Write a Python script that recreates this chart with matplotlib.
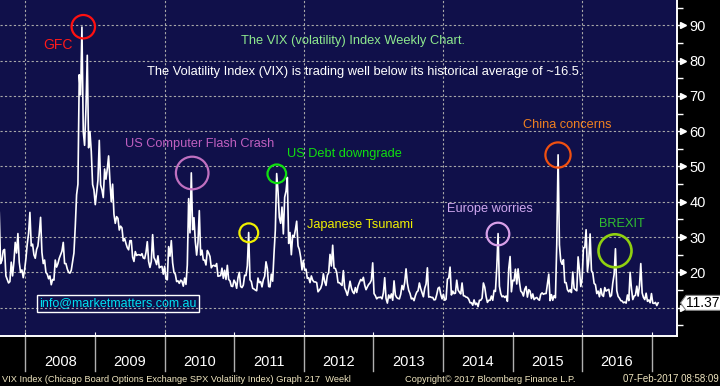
import numpy as np
import pandas as pd
import matplotlib
matplotlib.use("Agg")
import matplotlib.pyplot as plt
import matplotlib.transforms as mtrans
from matplotlib.patches import Circle, Polygon

plt.rcParams['font.family'] = ['Liberation Sans', 'DejaVu Sans']

# ---------------- data (weekly VIX readings) ----------------
vix_2007 = [37.0, 22.5, 23.4, 26.2, 26.5, 19.0, 18.0, 17.0, 17.4, 22.9, 19.0, 23.0,
            28.5, 25.5, 31.0, 22.9, 20.0, 20.7, 18.5, 20.7]
vix_2008 = [23.9, 28.0, 31.0, 37.0, 27.5, 28.0, 25.0, 24.0, 26.5, 27.5, 31.0, 35.6,
            25.7, 22.5, 23.5, 20.0, 19.5, 18.2, 19.0, 16.5, 18.0, 17.8, 23.5, 21.5,
            22.5, 24.0, 25.0, 26.0, 28.5, 22.5, 22.5, 21.0, 20.0, 19.8, 20.6, 23.0,
            25.5, 33.0, 42.0, 45.0, 76.0, 70.3, 89.5, 59.9, 56.0, 66.3, 81.5, 55.3,
            59.9, 54.3, 44.9, 43.4]
vix_2009 = [39.2, 42.8, 46.1, 57.4, 44.8, 43.4, 41.2, 49.3, 46.4, 49.3, 53.0, 45.9,
            40.0, 45.0, 36.5, 33.9, 35.8, 35.3, 32.0, 33.1, 32.6, 28.9, 29.6, 28.2,
            27.0, 26.4, 29.0, 29.0, 24.3, 23.1, 25.9, 24.8, 25.0, 25.0, 24.8, 25.3,
            24.1, 23.9, 25.6, 28.7, 23.1, 21.4, 23.1, 30.7, 24.2, 23.4, 22.2, 24.7,
            21.3, 21.6, 21.7, 19.5]
vix_2010 = [21.7, 18.1, 17.9, 27.3, 24.6, 29.0, 22.7, 20.0, 19.5, 17.4, 17.6, 16.9,
            17.8, 17.5, 16.1, 18.4, 16.6, 22.1, 40.9, 31.2, 48.2, 32.1, 35.5, 28.8,
            24.9, 28.5, 37.5, 24.9, 26.3, 23.5, 23.5, 22.1, 26.2, 25.5, 24.5, 21.3,
            21.9, 22.0, 21.7, 22.5, 18.9, 19.0, 19.1, 21.2, 18.3, 20.6, 18.0, 22.0,
            18.0, 17.6, 16.1, 16.0, 17.8]
vix_2011 = [17.1, 15.5, 18.5, 20.0, 16.0, 15.7, 16.4, 19.2, 19.1, 21.9, 31.3, 17.9,
            17.4, 15.5, 15.3, 15.0, 14.8, 18.4, 17.1, 17.4, 15.9, 17.9, 18.9, 23.0,
            21.1, 16.0, 15.9, 19.5, 17.5, 25.3, 32.0, 48.0, 43.0, 35.6, 33.9, 38.5,
            30.9, 41.3, 43.0, 46.9, 28.2, 31.3, 25.0, 30.5, 30.0, 32.0, 34.5, 27.5,
            26.5, 24.3, 20.7, 23.4]
vix_2012 = [20.6, 20.9, 18.3, 18.5, 17.1, 19.0, 17.8, 17.3, 17.3, 17.1, 14.5, 15.0,
            15.5, 16.7, 19.6, 17.4, 16.3, 19.2, 19.9, 25.1, 21.8, 27.7, 21.2, 21.1,
            20.0, 17.1, 17.1, 16.7, 16.3, 20.5, 15.6, 14.7, 13.5, 15.2, 17.5, 15.6,
            14.5, 14.0, 15.7, 14.3, 16.1, 17.1, 18.0, 17.6, 18.6, 16.4, 15.1, 15.9,
            16.6, 17.0, 17.8, 22.7]
vix_2013 = [14.0, 13.4, 12.5, 12.9, 12.9, 13.0, 12.5, 14.2, 18.5, 12.6, 11.3, 13.6,
            12.7, 13.9, 12.1, 17.6, 13.6, 12.9, 12.6, 12.5, 13.8, 16.3, 15.1, 17.2,
            21.0, 16.9, 14.9, 14.0, 12.5, 12.7, 12.0, 13.4, 14.4, 14.8, 17.0, 15.4,
            14.2, 13.1, 15.5, 16.7, 21.3, 13.0, 13.1, 12.9, 12.9, 12.2, 12.3, 13.7,
            15.5, 15.8, 13.8, 12.5]
vix_2014 = [13.8, 12.1, 12.4, 18.1, 18.4, 21.5, 13.6, 14.7, 14.0, 14.1, 17.8, 15.0,
            14.4, 13.9, 17.0, 13.4, 13.3, 13.0, 12.9, 12.4, 11.4, 11.4, 10.7, 12.2,
            10.9, 11.3, 10.3, 12.1, 12.1, 12.7, 17.0, 15.8, 13.2, 11.5, 12.1, 12.1,
            13.3, 12.1, 14.9, 14.6, 21.2, 31.0, 16.1, 14.0, 13.1, 13.3, 12.9, 13.3,
            11.8, 21.1, 24.5, 14.5]
vix_2015 = [17.8, 17.6, 20.9, 16.7, 21.0, 17.3, 14.7, 14.3, 13.3, 15.2, 16.0, 13.0,
            15.1, 14.7, 12.6, 13.9, 12.3, 12.7, 12.9, 12.4, 12.1, 13.8, 14.2, 13.8,
            14.0, 14.0, 16.8, 19.5, 12.0, 13.7, 12.1, 13.4, 12.8, 28.0, 53.3, 27.8,
            23.2, 22.3, 23.6, 17.1, 17.1, 15.1, 14.5, 15.1, 14.3, 20.1, 15.5, 15.1,
            14.8, 24.4, 20.7, 16.0]
vix_2016 = [18.2, 27.0, 27.0, 32.1, 20.2, 23.4, 30.9, 20.5, 19.8, 16.9, 16.5, 14.0,
            14.7, 13.1, 15.4, 13.6, 13.2, 15.7, 14.7, 15.0, 15.2, 13.1, 13.5, 17.0,
            19.4, 26.7, 14.8, 13.2, 12.7, 12.0, 11.9, 11.4, 11.6, 11.3, 13.6, 12.0,
            20.0, 15.4, 12.3, 13.3, 13.5, 16.1, 13.3, 16.2, 22.5, 14.2, 12.9, 12.3,
            14.1, 11.8, 12.2, 11.4, 14.0]
vix_2017 = [11.3, 11.2, 11.5, 10.6, 11.37]

first_fridays = ['2007-08-17', '2008-01-04', '2009-01-02', '2010-01-01', '2011-01-07',
                 '2012-01-06', '2013-01-04', '2014-01-03', '2015-01-02', '2016-01-01',
                 '2017-01-06']
yearly = [vix_2007, vix_2008, vix_2009, vix_2010, vix_2011, vix_2012, vix_2013,
          vix_2014, vix_2015, vix_2016, vix_2017]

year_labels = ['2008', '2009', '2010', '2011', '2012', '2013', '2014', '2015', '2016']
y_ticks = [10, 20, 30, 40, 50, 60, 70, 80, 90]

dates, values = [], []
for start, arr in zip(first_fridays, yearly):
    dates.extend(pd.date_range(start, periods=len(arr), freq='7D'))
    values.extend(arr)
dates = pd.DatetimeIndex(dates)
last_value = values[-1]

# ---------------- figure ----------------
W, H = 720, 386
fig = plt.figure(figsize=(W / 100, H / 100), dpi=100, facecolor='black')
ax = fig.add_axes([0, 50 / H, 677 / W, 336 / H])
ax.set_facecolor('#10104a')

ax.plot(dates, values, color='white', lw=1.2, zorder=3)

ax.set_ylim(1.98, 97.17)
ax.set_xlim(pd.Timestamp('2007-08-21'), pd.Timestamp('2017-05-13'))

for s in ['left', 'top']:
    ax.spines[s].set_visible(False)
for s in ['right', 'bottom']:
    ax.spines[s].set_color('white')
    ax.spines[s].set_linewidth(1.4)

# y axis on right (the 10 label sits under the last-value marker)
ax.yaxis.tick_right()
ax.set_yticks(y_ticks)
ax.set_yticks([5, 15, 25, 35, 45, 55, 65, 75, 85, 95], minor=True)
ax.set_yticklabels(['' if t == 10 else str(t) for t in y_ticks])
ax.tick_params(axis='y', which='major', colors='white', length=6, width=1.0,
               labelsize=10.5, pad=3)
ax.tick_params(axis='y', which='minor', colors='white', length=4, width=1.0)
ax.grid(axis='y', which='major', color='#a8a8a8', ls=(0, (2, 2)), lw=0.8, zorder=1)

bl = mtrans.blended_transform_factory(ax.transAxes, ax.transData)
ax.plot([1 + 6 / 677] * len(y_ticks), y_ticks, ls='none', marker='>', ms=5,
        color='white', transform=bl, clip_on=False, zorder=4)

# x axis: year boundaries
year_bounds = pd.to_datetime([f'{y}-01-01' for y in range(2008, 2018)])
ax.set_xticks(year_bounds)
ax.set_xticklabels([''] * len(year_bounds))
ax.tick_params(axis='x', which='both', direction='in', length=3, color='white')
for yb in year_bounds[::2]:
    ax.axvline(yb, color='#a8a8a8', ls=(0, (2, 2)), lw=0.8, zorder=1)

bx = mtrans.blended_transform_factory(ax.transData, ax.transAxes)
for yb in year_bounds:
    ax.plot([yb, yb], [0, -35 / 336], color='#b0b0b0', lw=1.0, transform=bx,
            clip_on=False)
for lab in year_labels:
    mid = pd.Timestamp(f'{lab}-07-02')
    ax.text(mid, -26 / 336, lab, transform=bx, ha='center', va='center',
            color='white', fontsize=10.5)

# last value marker
h = 7.5 / 3.53
poly = Polygon([(680.5 / 677, last_value), (686 / 677, last_value + h),
                (722 / 677, last_value + h), (722 / 677, last_value - h),
                (686 / 677, last_value - h)], closed=True, transform=bl,
               fc='white', ec='#808080', lw=0.8, clip_on=False, zorder=6)
ax.add_patch(poly)
ax.text(703 / 677, last_value, f'{last_value:.2f}', transform=bl, ha='center',
        va='center', color='black', fontsize=10, zorder=7, clip_on=False)


def ftext(x, y, s, color, size=9.2, **kw):
    fig.text(x / W, 1 - y / H, s, color=color, fontsize=size, ha='left',
             va='center', **kw)


def circ(x, y, r, color, lw=1.6):
    fig.add_artist(Circle((x / 100, (H - y) / 100), r / 100,
                          transform=fig.dpi_scale_trans, fill=False, ec=color,
                          lw=lw, zorder=5))


ftext(43, 45, 'GFC', '#ff1a1a', 10)
circ(83.3, 26.7, 11.7, '#ff1010')
ftext(241, 41, 'The VIX (volatility) Index Weekly Chart.', '#8ee88e', 9.3)
ftext(147, 72, 'The Volatility Index (VIX) is trading well below its historical average of ~16.5.',
      'white', 9.3)
ftext(125, 144, 'US Computer Flash Crash', '#c060c0')
circ(192.2, 173, 16.3, '#c070c0')
ftext(287, 154.5, 'US Debt downgrade', '#10e010')
circ(276.8, 173.8, 9.3, '#10e010')
circ(248.8, 232.8, 9.4, '#f0f000')
ftext(307, 225, 'Japanese Tsunami', '#f0f000')
ftext(447, 209, 'Europe worries', '#d0a8f0')
circ(498, 234, 11.3, '#d8a0e8')
ftext(523, 125.5, 'China concerns', '#f08020')
circ(558, 155, 12.6, '#f05010')
ftext(599, 224, 'BREXIT', '#30c030')
circ(615, 250.8, 16.5, '#90d010', lw=1.9)

fig.text(39.5 / W, 1 - 303 / H, 'info@marketmatters.com.au', color='#00e0f0',
         fontsize=9.0, ha='left', va='center',
         bbox=dict(boxstyle='square,pad=0.2', fc='none', ec='white', lw=1.0))

# footer
foot_kw = dict(color='#f0e6c0', va='center')
fig.text(2 / W, 1 - 379 / H,
         'VIX Index (Chicago Board Options Exchange SPX Volatility Index) Graph 217  Weekl',
         ha='left', fontsize=6.7, **foot_kw)
fig.text(405 / W, 1 - 379 / H, 'Copyright\u00a9 2017 Bloomberg Finance L.P.',
         ha='left', fontsize=6.7, **foot_kw)
fig.text(719 / W, 1 - 379 / H, '07-Feb-2017 08:58:09', ha='right', fontsize=7,
         **foot_kw)

fig.savefig('out.png', dpi=100, facecolor='black')
